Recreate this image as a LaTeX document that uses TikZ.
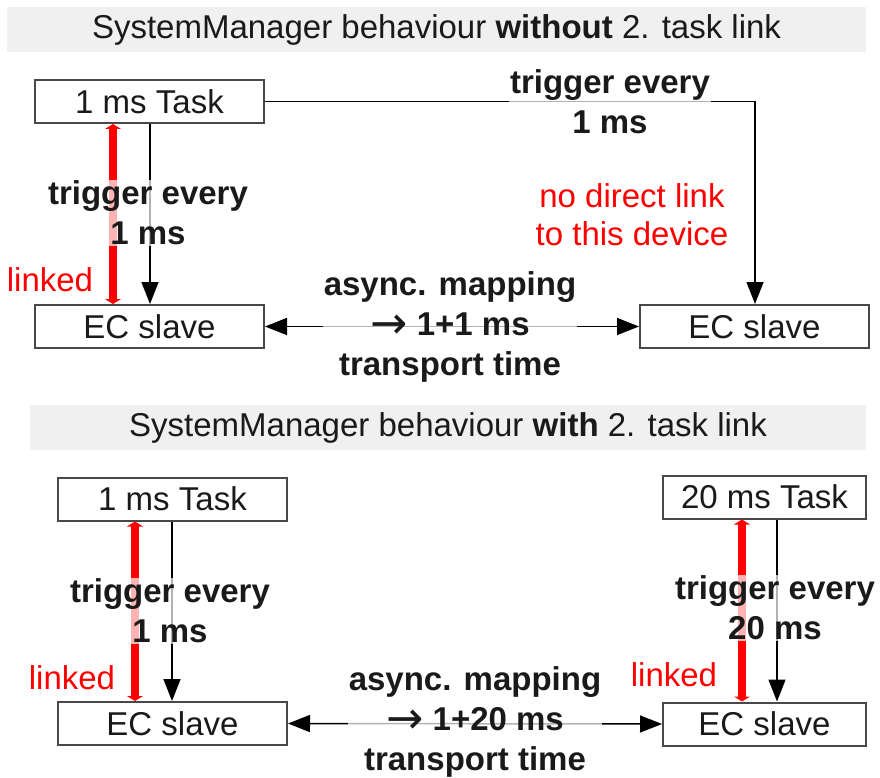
\documentclass[tikz,border=0pt]{standalone}
\usepackage{fontspec}
\usepackage{graphicx}
\setmainfont{Liberation Sans}
\newfontfamily\arrowfont{DejaVu Sans}
\usetikzlibrary{arrows.meta,calc}
\definecolor{boxline}{HTML}{484848}
\definecolor{band}{HTML}{F0F0F0}
\definecolor{txt}{HTML}{1A1A1A}
\tikzset{
  box/.style={draw=boxline, line width=2pt, fill=white, minimum width=229pt, minimum height=43pt, inner sep=0pt, text=txt, font=\fontsize{33}{38}\selectfont},
  hdr/.style={fill=band, draw=none, inner sep=0pt, text=txt, font=\fontsize{33}{38}\selectfont},
  arr/.style={draw=black, line width=1.5pt, -{Triangle[length=22pt,width=17pt]}},
  dblarr/.style={draw=black, line width=1.5pt, {Triangle[length=22pt,width=17pt]}-{Triangle[length=22pt,width=17pt]}},
  redarr/.style={draw=red, line width=8pt, {Triangle[length=5pt,width=16pt]}-{Triangle[length=5pt,width=16pt]}},
  lbl/.style={fill=white, fill opacity=0.7, text opacity=1, inner sep=1pt, align=center, text=txt, font=\fontsize{33}{40}\selectfont\bfseries},
  redlbl/.style={inner sep=0pt, align=center, text=red, font=\fontsize{33}{38}\selectfont},
}
\newcommand{\rarr}{\raisebox{-0.08em}{\scalebox{1.35}{\arrowfont\mdseries →}}}
\begin{document}
\begin{tikzpicture}[x=1pt,y=-1pt]
\useasboundingbox (0,0) rectangle (880,778);
% header bands
\node[hdr, minimum width=859pt, minimum height=45pt] (h1) at (436.5,29.5) {SystemManager behaviour \textbf{without} 2. task link};
\node[hdr, minimum width=836pt, minimum height=45pt] (h2) at (448,427.5) {SystemManager behaviour \textbf{with} 2. task link};

% ---------- top section ----------
\node[box] (t1) at (149.5,101.5) {1 ms Task};
\node[box] (e1) at (149.5,326.5) {EC slave};
\node[box] (e2) at (754.5,326.5) {EC slave};
\coordinate (xa) at (150,0);
\coordinate (xr) at (113,0);
\coordinate (xc) at (755,0);
\coordinate (c1) at (t1.east -| xc);

\draw[arr] (t1.east) -- (c1) -- (e2.north -| xc);
\draw[redarr] (t1.south -| xr) -- (e1.north -| xr);
\draw[arr] (t1.south -| xa) -- (e1.north -| xa);
\draw[dblarr] (e1.east) -- (e2.west);

\node[lbl] (l1) at (148,213) {trigger every\\1 ms};
\node[lbl] (l2) at (610,102) {trigger every\\1 ms};
\node[redlbl] (r1) at (632,215) {no direct link\\to this device};
\node[redlbl] (k1) at (50,280) {linked};
\node[lbl] (m1) at (450,327) {async. mapping\\\rarr\ 1+1 ms\\transport time};

% ---------- bottom section ----------
\node[box] (t2) at (172.5,499) {1 ms Task};
\node[box] (e3) at (172.5,723.5) {EC slave};
\node[box, minimum width=203pt] (t3) at (764.5,497) {20 ms Task};
\node[box, minimum width=203pt] (e4) at (764.5,724) {EC slave};
\coordinate (xb) at (172,0);
\coordinate (xbr) at (135,0);
\coordinate (xd) at (777,0);
\coordinate (xdr) at (742,0);

\draw[redarr] (t2.south -| xbr) -- (e3.north -| xbr);
\draw[arr] (t2.south -| xb) -- (e3.north -| xb);
\draw[redarr] (t3.south -| xdr) -- (e4.north -| xdr);
\draw[arr] (t3.south -| xd) -- (e4.north -| xd);
\draw[dblarr] (e3.east) -- (e4.west);

\node[lbl] (l3) at (170,611) {trigger every\\1 ms};
\node[lbl] (l4) at (775,608) {trigger every\\20 ms};
\node[redlbl] (k2) at (72,678) {linked};
\node[redlbl] (k3) at (674,675) {linked};
\node[lbl] (m2) at (475,722) {async. mapping\\\rarr\ 1+20 ms\\transport time};
\end{tikzpicture}
\end{document}
